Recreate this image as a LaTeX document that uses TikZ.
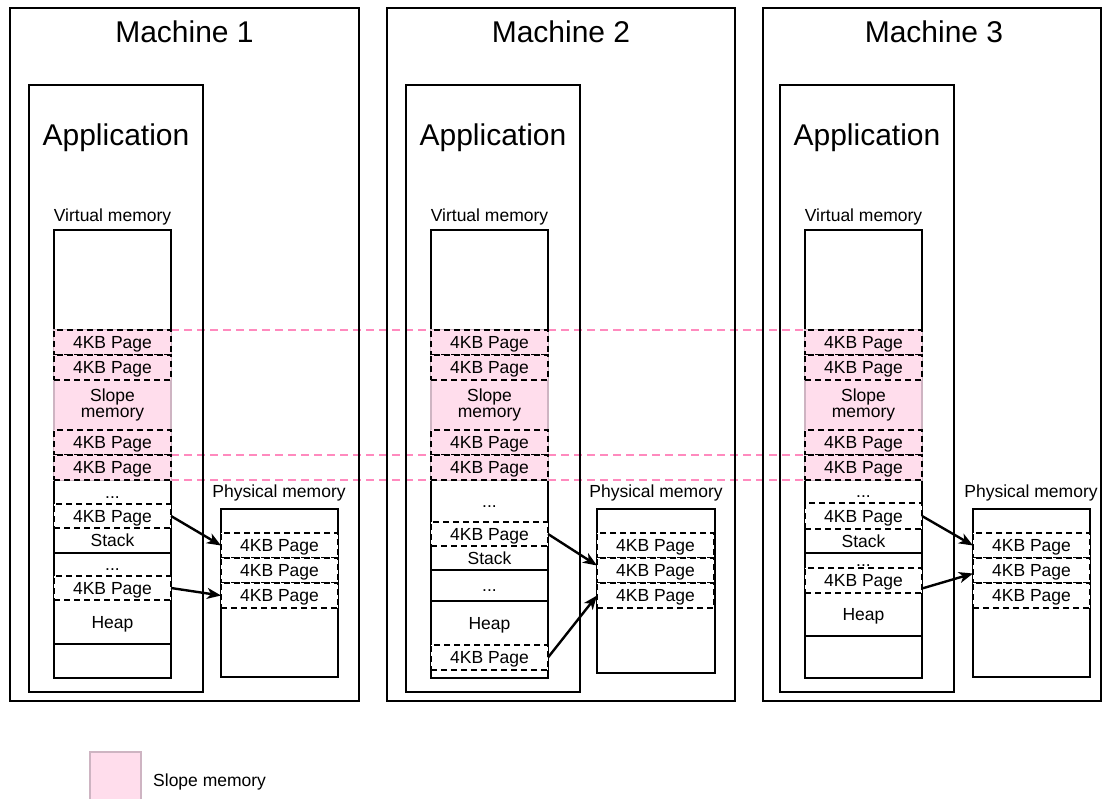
\documentclass[tikz,border=0pt]{standalone}
\usepackage{fontspec}
\setmainfont{Liberation Sans}
\usetikzlibrary{arrows.meta,backgrounds}

\definecolor{slopefill}{RGB}{255,221,236}
\definecolor{slopeedge}{RGB}{206,180,194}
\definecolor{slopeline}{RGB}{255,138,190}

\newcommand\titlefnt{\fontsize{30}{36}\selectfont}
\newcommand\rowfnt{\fontsize{17.5}{16}\selectfont}

% one cell of a memory column: style, name, top-left corner, height, text
\newcommand\vcell[5]{\node[#1, minimum height=#4pt] (#2) at (#3) {#5};}

\tikzset{
  lw/.style={line width=2.4pt},
  box/.style={draw, lw, inner sep=0pt, outer sep=0pt, anchor=north west},
  cellbase/.style={inner sep=0pt, outer sep=0pt, anchor=north west,
                   minimum width=117pt, font=\rowfnt},
  cell/.style={cellbase, text height=12.5pt, text depth=0pt},
  slopetext/.style={cellbase, align=center},
  page/.style={cell, draw, lw, dash pattern=on 6pt off 4pt, fill=white},
  slopepage/.style={page, fill=slopefill},
  band/.style={cellbase, draw=slopeedge, lw, fill=slopefill},
  divider/.style={lw},
  pagemap/.style={lw, -{Stealth[length=14pt,width=11pt,inset=4pt]}},
  shared/.style={draw=slopeline, lw, dash pattern=on 8pt off 5pt},
  lbl/.style={font=\rowfnt, anchor=base, inner sep=0pt},
  ttl/.style={font=\titlefnt, anchor=base, inner sep=0pt},
}

\begin{document}
\begin{tikzpicture}[x=1pt,y=-1pt]
\useasboundingbox (0,0) rectangle (1103,799);

% ---------------- Machine 1 ----------------
\node[box, minimum width=349pt, minimum height=693pt] (m1) at (10,8) {};
\node[ttl] (m1t) at (184.5,43) {Machine 1};
\node[box, minimum width=174pt, minimum height=607pt] (a1) at (29,85) {};
\node[ttl] (a1t) at (116,146) {Application};
\node[lbl] (v1t) at (112.5,222) {Virtual memory};
\node[box, fill=white, minimum width=117pt, minimum height=448pt] (v1) at (54,230) {};
\vcell{band}{b1}{54,330}{150}{}
\vcell{slopepage}{s1a}{54,330}{25}{4KB Page}
\vcell{slopepage}{s1b}{54,355}{25}{4KB Page}
\vcell{slopetext}{s1m}{54,380}{50}{Slope\\memory}
\vcell{slopepage}{s1c}{54,430}{25}{4KB Page}
\vcell{slopepage}{s1d}{54,455}{25}{4KB Page}
\vcell{cell}{d1a}{54,480}{24}{...}
\vcell{page}{p1a}{54,504}{24}{4KB Page}
\vcell{cell}{k1}{54,528}{25}{Stack}
\vcell{cell}{d1b}{54,553}{23}{...}
\vcell{page}{p1b}{54,576}{24}{4KB Page}
\vcell{cell}{h1}{54,600}{44}{Heap}
\draw[divider] (k1.south west) -- (k1.south east);
\draw[divider] (h1.south west) -- (h1.south east);

\node[lbl] (q1t) at (279,497) {Physical memory};
\node[box, fill=white, minimum width=117pt, minimum height=168pt] (pm1) at (221,509) {};
\vcell{page}{q1a}{221,533}{25}{4KB Page}
\vcell{page}{q1b}{221,558}{25}{4KB Page}
\vcell{page}{q1c}{221,583}{25}{4KB Page}
\draw[pagemap] (p1a.east) -- (q1a.west);
\draw[pagemap] (p1b.east) -- (q1c.west);

% ---------------- Machine 2 ----------------
\node[box, minimum width=348pt, minimum height=693pt] (m2) at (387,8) {};
\node[ttl] (m2t) at (561,43) {Machine 2};
\node[box, minimum width=174pt, minimum height=607pt] (a2) at (406,85) {};
\node[ttl] (a2t) at (493,146) {Application};
\node[lbl] (v2t) at (489.5,222) {Virtual memory};
\node[box, fill=white, minimum width=117pt, minimum height=448pt] (v2) at (431,230) {};
\vcell{band}{b2}{431,330}{150}{}
\vcell{slopepage}{s2a}{431,330}{25}{4KB Page}
\vcell{slopepage}{s2b}{431,355}{25}{4KB Page}
\vcell{slopetext}{s2m}{431,380}{50}{Slope\\memory}
\vcell{slopepage}{s2c}{431,430}{25}{4KB Page}
\vcell{slopepage}{s2d}{431,455}{25}{4KB Page}
\vcell{cell}{d2a}{431,480}{42}{...}
\vcell{page}{p2a}{431,522}{24}{4KB Page}
\vcell{cell}{k2}{431,546}{24}{Stack}
\vcell{cell}{d2b}{431,570}{31}{...}
\vcell{cell}{h2}{431,601}{44}{Heap}
\vcell{page}{p2b}{431,645}{25}{4KB Page}
\draw[divider] (k2.south west) -- (k2.south east);
\draw[divider] (d2b.south west) -- (d2b.south east);

\node[lbl] (q2t) at (656,497) {Physical memory};
\node[box, fill=white, minimum width=118pt, minimum height=164pt] (pm2) at (597,509) {};
\vcell{page}{q2a}{597,533}{25}{4KB Page}
\vcell{page}{q2b}{597,558}{25}{4KB Page}
\vcell{page}{q2c}{597,583}{25}{4KB Page}
\draw[pagemap] (p2a.east) -- ([yshift=5pt]q2b.west);
\draw[pagemap] (p2b.east) -- (q2c.west);

% ---------------- Machine 3 ----------------
\node[box, minimum width=338pt, minimum height=693pt] (m3) at (763,8) {};
\node[ttl] (m3t) at (934,43) {Machine 3};
\node[box, minimum width=174pt, minimum height=607pt] (a3) at (780,85) {};
\node[ttl] (a3t) at (867,146) {Application};
\node[lbl] (v3t) at (863.5,222) {Virtual memory};
\node[box, fill=white, minimum width=117pt, minimum height=448pt] (v3) at (805,230) {};
\vcell{band}{b3}{805,330}{150}{}
\vcell{slopepage}{s3a}{805,330}{25}{4KB Page}
\vcell{slopepage}{s3b}{805,355}{25}{4KB Page}
\vcell{slopetext}{s3m}{805,380}{50}{Slope\\memory}
\vcell{slopepage}{s3c}{805,430}{25}{4KB Page}
\vcell{slopepage}{s3d}{805,455}{25}{4KB Page}
\vcell{cell}{d3a}{805,480}{23}{...}
\vcell{page}{p3a}{805,503}{26}{4KB Page}
\vcell{cell}{k3}{805,529}{24}{Stack}
\vcell{cell}{d3b}{805,553}{15}{...}
\vcell{page}{p3b}{805,568}{25}{4KB Page}
\vcell{cell}{h3}{805,593}{43}{Heap}
\draw[divider] (k3.south west) -- (k3.south east);
\draw[divider] (h3.south west) -- (h3.south east);

\node[lbl] (q3t) at (1031,497) {Physical memory};
\node[box, fill=white, minimum width=117pt, minimum height=168pt] (pm3) at (973,509) {};
\vcell{page}{q3a}{973,533}{25}{4KB Page}
\vcell{page}{q3b}{973,558}{25}{4KB Page}
\vcell{page}{q3c}{973,583}{25}{4KB Page}
\draw[pagemap] (p3a.east) -- (q3a.west);
\draw[pagemap] ([yshift=-8pt]p3b.east) -- ([yshift=-3pt]q3b.west);

% ---------------- shared slope memory guides ----------------
\begin{pgfonlayer}{background}
\draw[shared] (s1a.north east) -- (s3a.north west);
\draw[shared] (s1d.north east) -- (s3d.north west);
\draw[shared] (s1d.south east) -- (s3d.south west);
\end{pgfonlayer}

% ---------------- legend ----------------
\node[box, draw=slopeedge, fill=slopefill, minimum width=51pt, minimum height=50pt] (key) at (90,752) {};
\node[lbl, anchor=base west] (keyt) at (153,786) {Slope memory};
\end{tikzpicture}
\end{document}
